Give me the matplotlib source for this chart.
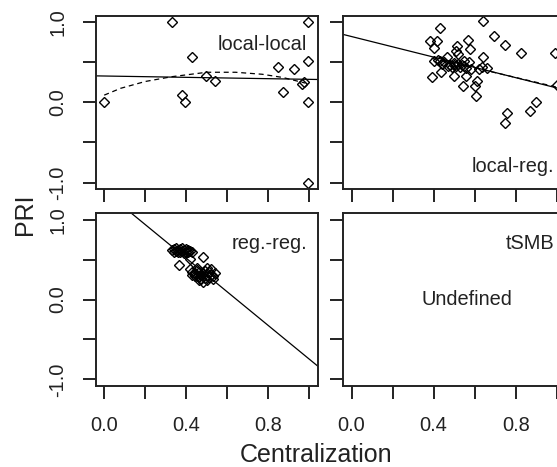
import matplotlib
matplotlib.use('Agg')
import matplotlib.pyplot as plt

plt.rcParams['font.family'] = ['Liberation Sans', 'DejaVu Sans']

# local-local panel
ll_x = [0.33, 0.995, 0.426, 0.0, 0.379, 0.394, 0.496, 0.54, 0.847, 0.873, 0.925, 0.995, 0.964, 0.975, 0.995, 0.995]
ll_y = [1.0, 1.0, 0.57, 0.0, 0.09, 0.0, 0.33, 0.27, 0.44, 0.13, 0.42, 0.52, 0.23, 0.25, 0.0, -1.0]
ll_fit_x = [-0.04, 1.04]
ll_fit_y = [0.33, 0.285]
ll_smooth_x = [0.0, 0.08, 0.2, 0.33, 0.5, 0.64, 0.77, 0.87, 0.98]
ll_smooth_y = [0.09, 0.175, 0.26, 0.32, 0.375, 0.375, 0.35, 0.31, 0.24]

# local-reg. panel
lr_x = [0.433, 0.64, 0.383, 0.417, 0.403, 0.515, 0.567, 0.576, 0.694, 0.747, 0.826, 0.993,
        0.64, 0.40, 0.433, 0.466, 0.39, 0.436, 0.498, 0.542, 0.559, 0.60, 0.608, 0.61,
        0.757, 0.747, 0.87, 0.90, 0.637, 0.66, 1.0,
        0.48, 0.50, 0.51, 0.52, 0.53, 0.54, 0.55, 0.56, 0.50, 0.49, 0.47, 0.45, 0.42,
        0.44, 0.58, 0.62, 0.57, 0.55, 0.52, 0.51]
lr_y = [0.93, 1.02, 0.76, 0.77, 0.68, 0.70, 0.78, 0.66, 0.83, 0.71, 0.61, 0.61,
        0.56, 0.51, 0.51, 0.57, 0.31, 0.375, 0.33, 0.21, 0.33, 0.21, 0.08, 0.26,
        -0.13, -0.26, -0.11, 0.01, 0.445, 0.43, 0.22,
        0.47, 0.46, 0.45, 0.48, 0.44, 0.46, 0.45, 0.43, 0.49, 0.44, 0.45, 0.50, 0.53,
        0.48, 0.42, 0.42, 0.50, 0.52, 0.60, 0.64]
lr_fit_x = [-0.04, 1.04]
lr_fit_y = [0.846, 0.154]
lr_smooth_x = [0.39, 0.5, 0.6, 0.7, 0.8, 0.9, 1.0]
lr_smooth_y = [0.55, 0.48, 0.43, 0.37, 0.31, 0.25, 0.19]

# reg.-reg. panel
rr_x = [0.33, 0.34, 0.35, 0.35, 0.36, 0.37, 0.37, 0.38, 0.38, 0.39, 0.40, 0.40, 0.41, 0.42,
        0.36, 0.34, 0.39, 0.41, 0.43, 0.366, 0.42, 0.48,
        0.42, 0.43, 0.44, 0.45, 0.45, 0.46, 0.46, 0.47, 0.47, 0.48, 0.48, 0.49, 0.49, 0.50,
        0.50, 0.51, 0.51, 0.52, 0.52, 0.53, 0.53, 0.44, 0.46, 0.48, 0.50, 0.45, 0.43, 0.54]
rr_y = [0.62, 0.63, 0.61, 0.64, 0.62, 0.63, 0.60, 0.64, 0.61, 0.62, 0.63, 0.60, 0.62, 0.61,
        0.59, 0.60, 0.58, 0.59, 0.60, 0.43, 0.51, 0.53,
        0.38, 0.35, 0.33, 0.37, 0.30, 0.34, 0.28, 0.31, 0.26, 0.33, 0.29, 0.36, 0.27, 0.31,
        0.24, 0.34, 0.28, 0.31, 0.38, 0.30, 0.26, 0.29, 0.24, 0.22, 0.40, 0.40, 0.31, 0.33]
rr_fit_x = [0.13, 1.04]
rr_fit_y = [1.086, -0.834]

y_ticks = [-1.0, -0.5, 0.0, 0.5, 1.0]
y_labels = ['-1.0', '', '0.0', '', '1.0']
x_ticks = [0.0, 0.2, 0.4, 0.6, 0.8, 1.0]
x_labels = ['0.0', '', '0.4', '', '0.8', '']

W, H = 557, 467
fig = plt.figure(figsize=(W / 100, H / 100), dpi=100)


def make_axes(left, top, right, bottom, xlab, ylab):
    ax = fig.add_axes([left / W, 1 - bottom / H, (right - left) / W, (bottom - top) / H])
    ax.set_xlim(-0.04, 1.04)
    ax.set_ylim(-1.08, 1.08)
    for s in ax.spines.values():
        s.set_linewidth(1.4)
        s.set_color('#222222')
    ax.set_xticks(x_ticks)
    ax.set_yticks(y_ticks)
    ax.set_xticklabels(x_labels if xlab else [''] * 6)
    ax.set_yticklabels(y_labels if ylab else [''] * 5, rotation=90, va='center')
    ax.tick_params(direction='out', length=9.5, width=1.4, color='#222222',
                   labelsize=14.4, labelcolor='#222222')
    ax.tick_params(axis='x', pad=12)
    ax.tick_params(axis='y', pad=11)
    return ax


def pts(ax, x, y):
    ax.plot(x, y, linestyle='none', marker='D', markersize=4.8, markerfacecolor='none',
            markeredgecolor='black', markeredgewidth=1.0)


ax1 = make_axes(96, 15.7, 317.7, 189, False, True)
pts(ax1, ll_x, ll_y)
ax1.plot(ll_fit_x, ll_fit_y, color='black', lw=0.9)
ax1.plot(ll_smooth_x, ll_smooth_y, color='black', lw=0.9, dashes=(4, 3))
ax1.text(0.99, 0.725, 'local-local', ha='right', va='center', fontsize=14.4, color='#222222')

ax2 = make_axes(343.3, 15.7, 565, 189, False, False)
pts(ax2, lr_x, lr_y)
ax2.plot(lr_fit_x, lr_fit_y, color='black', lw=0.9)
ax2.plot(lr_smooth_x, lr_smooth_y, color='black', lw=0.9, dashes=(4, 3))
ax2.text(0.985, -0.80, 'local-reg.', ha='right', va='center', fontsize=14.4, color='#222222')

ax3 = make_axes(96, 213.3, 317.7, 385.7, True, True)
pts(ax3, rr_x, rr_y)
ax3.plot(rr_fit_x, rr_fit_y, color='black', lw=0.9)
ax3.text(0.987, 0.70, 'reg.-reg.', ha='right', va='center', fontsize=14.4, color='#222222')

ax4 = make_axes(343.3, 213.3, 565, 385.7, True, False)
ax4.text(0.99, 0.70, 'tSMB', ha='right', va='center', fontsize=14.4, color='#222222')
ax4.text(0.56, 0.0, 'Undefined', ha='center', va='center', fontsize=14.4, color='#222222')

fig.text(316 / W, 1 - 455 / H, 'Centralization', ha='center', va='center', fontsize=18, color='#222222')
fig.text(25 / W, 1 - 214 / H, 'PRI', ha='center', va='center', rotation=90, fontsize=18, color='#222222')

fig.savefig('out.png', dpi=100)
